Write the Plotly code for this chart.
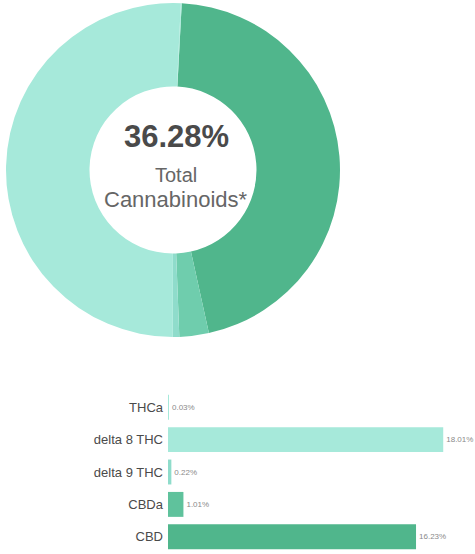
import plotly.graph_objects as go

categories = ["THCa", "delta 8 THC", "delta 9 THC", "CBDa", "CBD"]
values = [0.03, 18.01, 0.22, 1.01, 16.23]
value_labels = ["0.03%", "18.01%", "0.22%", "1.01%", "16.23%"]
total_label = "36.28%"

LIGHT = "#a6e9da"
MED = "#6fcdad"
DARK = "#50b68c"
bar_colors = [LIGHT, LIGHT, "#8fdccb", "#5fc29c", DARK]

# donut order: clockwise from top
pie_labels = ["CBD", "CBDa", "delta 9 THC", "delta 8 THC", "THCa"]
pie_values = [values[categories.index(c)] for c in pie_labels]
pie_colors = [DARK, MED, "#8fdccb", LIGHT, LIGHT]

fig = go.Figure()
fig.add_trace(go.Pie(
    labels=pie_labels, values=pie_values, hole=0.5, sort=False,
    direction="clockwise", rotation=3, textinfo="none",
    marker=dict(colors=pie_colors, line=dict(width=0)),
    domain=dict(x=[6/475, 340/475], y=[1-337/554, 1-3/554]),
    showlegend=False,
))
fig.add_trace(go.Bar(
    x=values, y=categories, orientation="h",
    marker=dict(color=bar_colors, line=dict(width=0)),
    text=value_labels, textposition="outside", cliponaxis=False,
    constraintext="none",
    textfont=dict(size=8, color="#8a8a8a", family="Liberation Sans"),
    xaxis="x", yaxis="y", showlegend=False,
))

fig.update_layout(
    width=475, height=554,
    margin=dict(l=0, r=0, t=0, b=0),
    paper_bgcolor="white", plot_bgcolor="white",
    bargap=0.23,
    xaxis=dict(domain=[168/475, 466/475], range=[0, 19.5],
               visible=False, fixedrange=True),
    yaxis=dict(domain=[1-553/554, 1-391/554], autorange="reversed",
               showgrid=False, zeroline=False, showline=False,
               ticks="", ticklabelstandoff=4, fixedrange=True,
               tickfont=dict(size=13, color="#4a4a4a", family="Liberation Sans")),
    annotations=[
        dict(text="<b>" + total_label + "</b>", x=176/475, y=1-137/554,
             xref="paper", yref="paper", showarrow=False, yanchor="middle",
             font=dict(size=31, color="#4a4a4a",
                       family="Liberation Sans Narrow, Arial Narrow, Liberation Sans")),
        dict(text="Total", x=176/475, y=1-175/554, xref="paper", yref="paper",
             showarrow=False, yanchor="middle",
             font=dict(size=20, color="#666666", family="Liberation Sans")),
        dict(text="Cannabinoids*", x=176/475, y=1-199/554, xref="paper", yref="paper",
             showarrow=False, yanchor="middle",
             font=dict(size=22, color="#666666", family="Liberation Sans")),
    ],
)

fig.write_html("out.html", config={"displayModeBar": False},
               post_script="document.body.style.margin='0';")
